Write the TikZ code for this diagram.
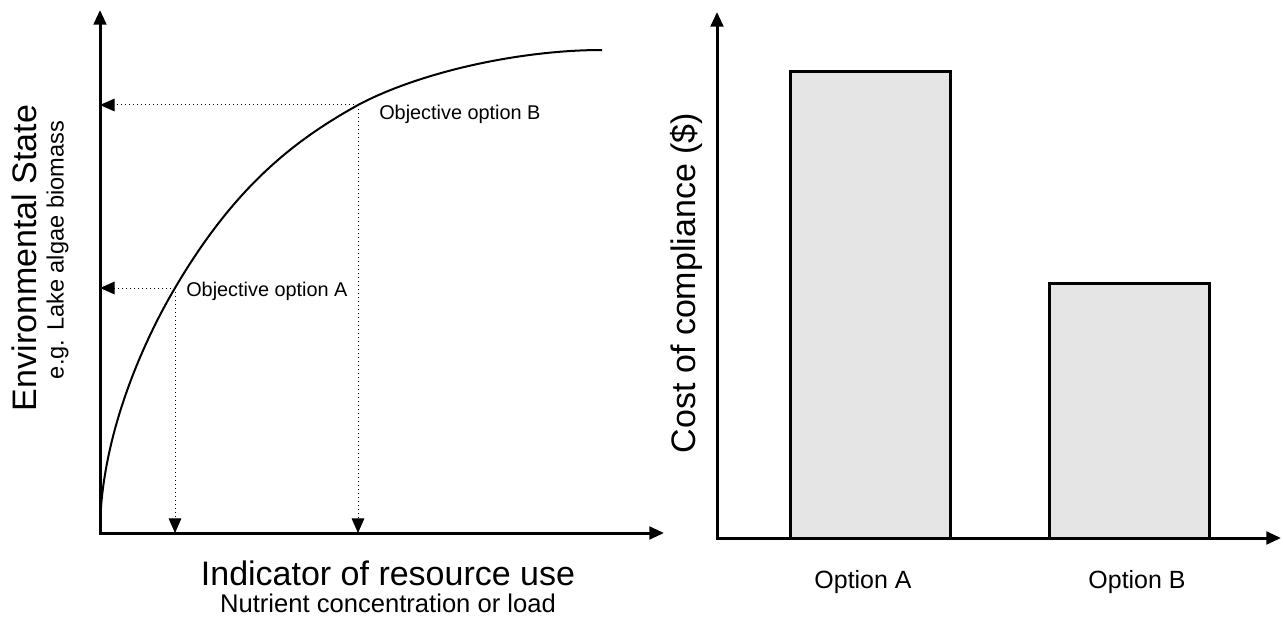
\documentclass[tikz,border=0pt]{standalone}
\usepackage{fontspec}
\setmainfont{Liberation Sans}
\usetikzlibrary{arrows.meta,positioning}

\begin{document}
\begin{tikzpicture}[x=0.75pt,y=-0.75pt,%
    >={Triangle[length=11pt,width=9.5pt]},every node/.style={inner sep=0pt}]
    \tikzstyle{axis}=[<->,line width=2.25pt,line join=miter]
    \tikzstyle{guide}=[->,line width=0.75pt,dash pattern=on 0.75pt off 2.25pt]
    \tikzstyle{bar}=[line width=2.25pt,fill=black!10,draw=black]
    \tikzstyle{title}=[font=\fontsize{25.5}{30}\selectfont]
    \tikzstyle{subtitle}=[font=\fontsize{18}{22}\selectfont]
    \tikzstyle{objective}=[anchor=west,font=\fontsize{14.9}{18}\selectfont]
    \tikzstyle{option}=[font=\fontsize{18.7}{22}\selectfont]
    \useasboundingbox (0,0) rectangle (1283,617);
    % Left plot: axes
    \coordinate (origL) at (100,533);
    \coordinate (yTipL) at (100,10);
    \coordinate (xTipL) at (664,533);
    \draw [axis] (yTipL) -- (origL) -- (xTipL);
    % Response curve
    \coordinate (optA) at (175,288);
    \coordinate (optB) at (358,105);
    \coordinate (curveEnd) at (602,50);
    \draw [line width=1.5pt] (origL) .. controls (100,430) and (150,330) .. (optA)
      .. controls (236,184) and (297,139) .. (optB)
      .. controls (420,72) and (520,50) .. (curveEnd);
    % Guides from the objectives
    \draw [guide] (optA) -- (optA -| origL);
    \draw [guide] (optA) -- (optA |- origL);
    \draw [guide] (optB) -- (optB -| origL);
    \draw [guide] (optB) -- (optB |- origL);
    \node (objA) [objective] at (186,291) {Objective option A};
    \node (objB) [objective] at (379,114) {Objective option B};
    % Left plot: labels
    \node (yTitle) [title,rotate=90] at (24,258) {Environmental State};
    \node (ySub) [subtitle,rotate=90,font=\fontsize{17.7}{22}\selectfont] at (57.5,250) {e.g. Lake algae biomass};
    \node (xTitle) [title] at (388,573) {Indicator of resource use};
    \node (xSub) [subtitle,font=\fontsize{19.2}{23}\selectfont] at (388,603) {Nutrient concentration or load};
    % Right plot: bars
    \draw [bar] (790,538) rectangle (950,72);
    \draw [bar] (1049,538) rectangle (1209,283);
    % Right plot: axes
    \coordinate (origR) at (717,538);
    \coordinate (yTipR) at (717,12);
    \coordinate (xTipR) at (1281,538);
    \draw [axis] (yTipR) -- (origR) -- (xTipR);
    % Right plot: labels
    \node (costTitle) [title,rotate=90] at (686,283) {Cost of compliance (\$)};
    \node (optionA) [option] at (863,582) {Option A};
    \node (optionB) [option] at (1137,582) {Option B};
  \end{tikzpicture}
\end{document}
